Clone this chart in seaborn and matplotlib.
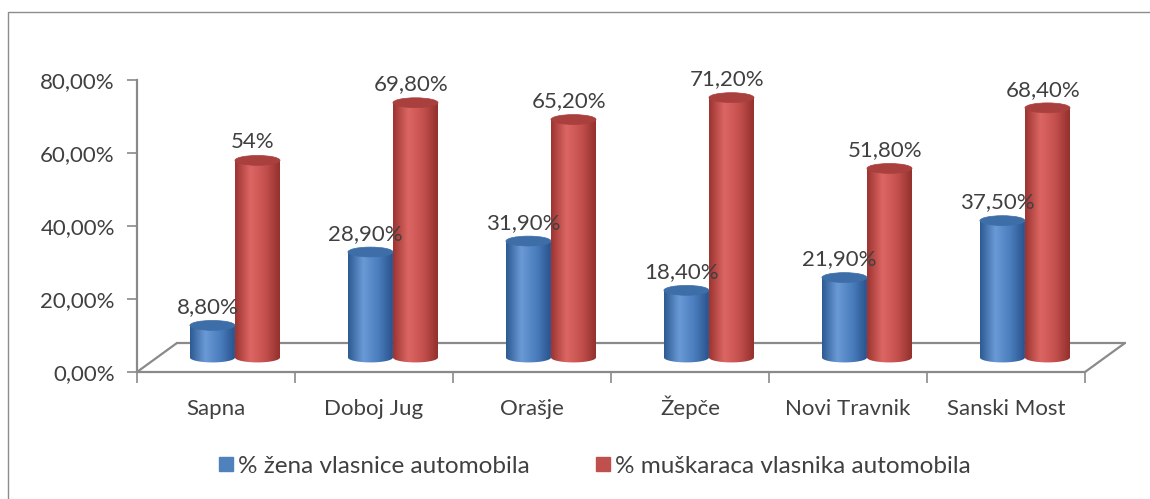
import numpy as np
import pandas as pd
import seaborn as sns
import matplotlib.pyplot as plt
from matplotlib.patches import Polygon, Ellipse, Rectangle
from matplotlib.colors import LinearSegmentedColormap
from matplotlib.lines import Line2D

# data
cities = ['Sapna', 'Doboj Jug', 'Orašje', 'Žepče', 'Novi Travnik', 'Sanski Most']
zene = [8.8, 28.9, 31.9, 18.4, 21.9, 37.5]
muskarci = [54.0, 69.8, 65.2, 71.2, 51.8, 68.4]
zene_lbl = ['8,80%', '28,90%', '31,90%', '18,40%', '21,90%', '37,50%']
musk_lbl = ['54%', '69,80%', '65,20%', '71,20%', '51,80%', '68,40%']
series = ['% žena vlasnice automobila', '% muškaraca vlasnika automobila']
yticks = [0, 20, 40, 60, 80]

df = pd.DataFrame({
    'grad': cities * 2,
    'serija': [series[0]] * 6 + [series[1]] * 6,
    'vrijednost': zene + muskarci,
})

sns.set_style('white')
plt.rcParams['font.family'] = ['Lato', 'DejaVu Sans']

blue = '#4F81BD'
red = '#C0504D'
cm_blue = LinearSegmentedColormap.from_list('b', ['#2c5a92', '#6a9ad6', '#4a7dbd', '#27508a'])
cm_red = LinearSegmentedColormap.from_list('r', ['#9c3431', '#dc6663', '#c4504d', '#8f2e2b'])
tops = ['#3e6ea8', '#a9403d']
txt = '#404040'
fs = 16

fig = plt.figure(figsize=(11.5, 4.99), dpi=100)
ax = fig.add_axes([137 / 1150, 1 - 372 / 499, 995.4 / 1150, 292 / 499])

sns.barplot(data=df, x='grad', y='vrijednost', hue='serija', order=cities,
            hue_order=series, palette=[blue, red], width=0.57, gap=0,
            legend=False, ax=ax)

# 3d depth of the floor (category units / percent units)
dx, dy = 0.253, 7.95
eh = 2.7
base = dy / 2
shift = 0.12

labels = [zene_lbl, musk_lbl]
cmaps = [cm_blue, cm_red]
grad_img = np.linspace(0, 1, 200).reshape(1, -1)

# floor
gray = '#8a8a8a'
ax.plot([-0.5 + dx, 5.5 + dx], [dy, dy], color=gray, lw=1.6, clip_on=False)
ax.plot([-0.5, -0.5 + dx], [0, dy], color=gray, lw=1.6, clip_on=False)
ax.plot([5.5, 5.5 + dx], [0, dy], color=gray, lw=1.6, clip_on=False)

for si, cont in enumerate(ax.containers):
    for bi, bar in enumerate(cont):
        x0 = bar.get_x() + shift
        w = bar.get_width()
        h = bar.get_height()
        bar.set_visible(False)
        top = base + h
        cx = x0 + w / 2
        th = np.linspace(np.pi, 2 * np.pi, 40)
        pts = [(cx + w / 2 * np.cos(t), base + eh / 2 * np.sin(t)) for t in th]
        pts += [(x0 + w, top), (x0, top)]
        body = Polygon(pts, closed=True, facecolor='none', edgecolor='none')
        ax.add_patch(body)
        im = ax.imshow(grad_img, cmap=cmaps[si], extent=[x0, x0 + w, base - eh, top],
                       aspect='auto', interpolation='bicubic', zorder=2)
        im.set_clip_path(body)
        ax.add_patch(Ellipse((cx, top), w, eh, facecolor=tops[si],
                             edgecolor=tops[si], lw=0.5, zorder=3))
        ax.text(cx - 0.03, top + eh / 2 + 0.9, labels[si][bi], ha='center', va='bottom',
                fontsize=fs, color=txt, clip_on=False, zorder=4)

ax.set_xlim(-0.5, 5.8)
ax.set_ylim(0, 80)

for s in ['top', 'right']:
    ax.spines[s].set_visible(False)
for s in ['left', 'bottom']:
    ax.spines[s].set_color(gray)
    ax.spines[s].set_linewidth(1.6)
ax.spines['bottom'].set_bounds(-0.5, 5.5)

ax.set_yticks(yticks)
ax.set_yticklabels([f'{v},00%' for v in yticks])
ax.tick_params(axis='y', direction='out', length=7, width=1.2, color=gray,
               pad=9, labelsize=fs, labelcolor=txt, left=True)
ax.set_xticks(range(len(cities)))
ax.set_xticklabels(cities)
ax.set_xticks(np.arange(-0.5, 6, 1), minor=True)
ax.tick_params(axis='x', which='major', length=0, pad=31, labelsize=fs,
               labelcolor=txt)
for lbl in ax.get_xticklabels():
    lbl.set_verticalalignment('baseline')
ax.tick_params(axis='x', which='minor', direction='out', length=8, width=1.2,
               color=gray, bottom=True)
ax.set_xlabel('')
ax.set_ylabel('')

# outer chart border
fig.patches.append(Rectangle((8 / 1150, -0.05), 1.1, 1 - 12 / 499 + 0.05,
                             transform=fig.transFigure, fill=False,
                             edgecolor='#8c8c8c', lw=1.0))

handles = [Line2D([], [], marker='s', ls='', color=c, markersize=10) for c in [blue, red]]
fig.legend(handles, series, loc='center', bbox_to_anchor=(0.516, 0.066), ncol=2,
           frameon=False, fontsize=17.5, handletextpad=0.1, columnspacing=2.6,
           labelcolor=txt, handlelength=0.8)

fig.savefig('out.png', dpi=100)
